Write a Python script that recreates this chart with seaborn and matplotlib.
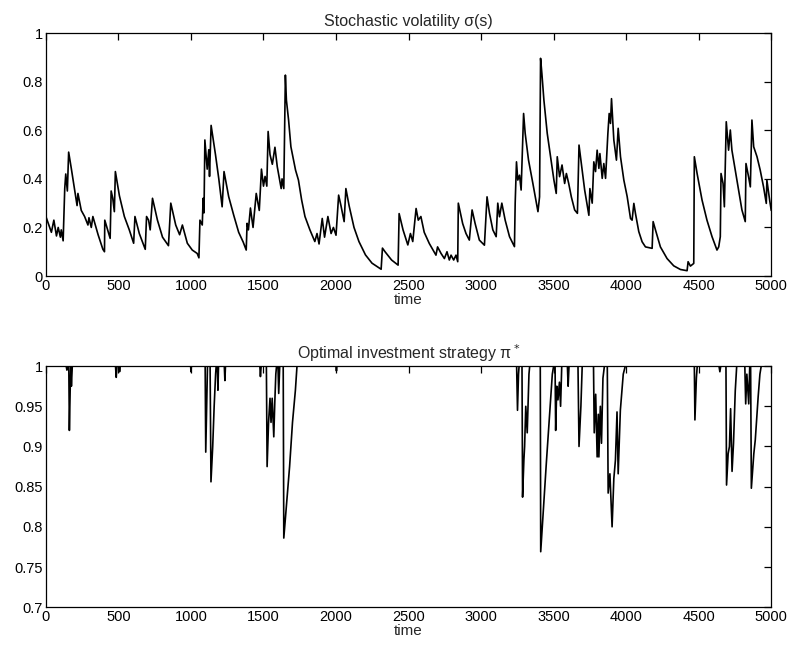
import pandas as pd
import numpy as np
import matplotlib
matplotlib.use("Agg")
import matplotlib.pyplot as plt
from matplotlib.ticker import FormatStrFormatter
import seaborn as sns

# volatility path sigma(s) (time, value)
vol_time = [0, 38, 55, 73, 85, 100, 106, 119, 130, 137, 148, 157, 176, 199, 215, 221, 244, 267, 290, 297,
            313, 324, 360, 393, 404, 406, 443, 450, 461, 472, 479, 507, 541, 575, 605, 614, 644, 685, 694, 708,
            719, 735, 769, 804, 845, 861, 895, 922, 941, 975, 1009, 1043, 1055, 1062, 1078, 1084, 1090, 1096,
            1112, 1123, 1128, 1139, 1169, 1192, 1215, 1228, 1260, 1295, 1329, 1360, 1381, 1387, 1396, 1410,
            1428, 1450, 1471, 1486, 1500, 1511, 1523, 1532, 1545, 1561, 1579, 1595, 1613, 1622, 1628, 1640,
            1646, 1651, 1658, 1673, 1689, 1707, 1721, 1741, 1763, 1786, 1820, 1854, 1869, 1883, 1905, 1921,
            1944, 1966, 1982, 2000, 2018, 2034, 2056, 2068, 2090, 2124, 2158, 2203, 2248, 2311, 2320, 2338,
            2383, 2428, 2435, 2462, 2495, 2513, 2529, 2552, 2567, 2585, 2608, 2643, 2689, 2700, 2724, 2747,
            2765, 2781, 2793, 2811, 2827, 2839, 2843, 2873, 2896, 2919, 2938, 2959, 2988, 3023, 3041, 3058,
            3081, 3104, 3115, 3127, 3143, 3166, 3196, 3230, 3235, 3244, 3253, 3265, 3276, 3293, 3304, 3318,
            3327, 3357, 3392, 3403, 3410, 3419, 3433, 3456, 3479, 3502, 3518, 3525, 3541, 3558, 3576, 3588,
            3604, 3622, 3645, 3664, 3675, 3691, 3714, 3737, 3743, 3750, 3766, 3777, 3789, 3800, 3812, 3819,
            3835, 3846, 3858, 3874, 3883, 3892, 3899, 3915, 3933, 3945, 3961, 3984, 4007, 4030, 4041, 4053,
            4064, 4087, 4110, 4133, 4179, 4186, 4202, 4236, 4282, 4328, 4374, 4420, 4427, 4443, 4466, 4470,
            4489, 4523, 4557, 4592, 4626, 4638, 4649, 4654, 4668, 4677, 4690, 4706, 4718, 4729, 4752, 4775,
            4798, 4821, 4826, 4844, 4856, 4867, 4879, 4902, 4924, 4947, 4966, 4970, 4989, 5000]
vol_value = [0.245, 0.18, 0.23, 0.165, 0.2, 0.16, 0.19, 0.145, 0.36, 0.42, 0.35, 0.51, 0.44, 0.35, 0.29, 0.34,
             0.27, 0.245, 0.21, 0.24, 0.2, 0.245, 0.17, 0.11, 0.1, 0.23, 0.155, 0.35, 0.32, 0.265, 0.43, 0.33,
             0.245, 0.19, 0.135, 0.245, 0.175, 0.11, 0.245, 0.23, 0.19, 0.32, 0.23, 0.16, 0.125, 0.3, 0.21,
             0.17, 0.21, 0.135, 0.107, 0.093, 0.075, 0.23, 0.21, 0.32, 0.26, 0.56, 0.44, 0.52, 0.41, 0.62, 0.5,
             0.4, 0.285, 0.43, 0.327, 0.25, 0.18, 0.14, 0.107, 0.217, 0.19, 0.28, 0.2, 0.34, 0.27, 0.44, 0.37,
             0.41, 0.37, 0.595, 0.5, 0.46, 0.53, 0.45, 0.39, 0.36, 0.4, 0.36, 0.61, 0.827, 0.724, 0.642, 0.532,
             0.477, 0.436, 0.395, 0.313, 0.245, 0.19, 0.142, 0.175, 0.132, 0.237, 0.16, 0.245, 0.175, 0.2,
             0.168, 0.333, 0.29, 0.224, 0.36, 0.29, 0.2, 0.142, 0.087, 0.053, 0.028, 0.115, 0.1, 0.066, 0.045,
             0.257, 0.19, 0.128, 0.175, 0.142, 0.278, 0.23, 0.245, 0.18, 0.134, 0.086, 0.12, 0.093, 0.072, 0.1,
             0.066, 0.086, 0.066, 0.086, 0.059, 0.3, 0.216, 0.175, 0.148, 0.272, 0.216, 0.148, 0.127, 0.326,
             0.258, 0.19, 0.162, 0.3, 0.244, 0.3, 0.23, 0.162, 0.121, 0.3, 0.47, 0.395, 0.415, 0.354, 0.669,
             0.587, 0.518, 0.477, 0.381, 0.265, 0.326, 0.896, 0.834, 0.724, 0.587, 0.491, 0.395, 0.34, 0.491,
             0.409, 0.457, 0.381, 0.422, 0.381, 0.326, 0.272, 0.258, 0.539, 0.463, 0.354, 0.272, 0.25, 0.36,
             0.3, 0.47, 0.43, 0.518, 0.443, 0.504, 0.402, 0.463, 0.402, 0.587, 0.669, 0.628, 0.73, 0.56, 0.477,
             0.608, 0.491, 0.395, 0.327, 0.237, 0.23, 0.299, 0.258, 0.183, 0.141, 0.12, 0.114, 0.224, 0.19,
             0.12, 0.072, 0.042, 0.027, 0.022, 0.059, 0.041, 0.052, 0.491, 0.422, 0.313, 0.23, 0.162, 0.107,
             0.12, 0.162, 0.422, 0.381, 0.285, 0.635, 0.518, 0.601, 0.518, 0.436, 0.354, 0.272, 0.224, 0.463,
             0.408, 0.367, 0.642, 0.532, 0.491, 0.436, 0.367, 0.299, 0.395, 0.313, 0.27]

# optimal strategy pi* (time, value)
pi_time = [0, 140, 145, 150, 158, 162, 168, 172, 176, 182, 480, 485, 490, 505, 508, 512, 998, 1000, 1003,
           1098, 1102, 1108, 1114, 1132, 1138, 1150, 1160, 1170, 1174, 1182, 1186, 1190, 1230, 1234, 1238,
           1475, 1479, 1484, 1520, 1525, 1535, 1545, 1552, 1560, 1571, 1578, 1585, 1590, 1600, 1605, 1612,
           1636, 1640, 1660, 1680, 1700, 1720, 1731, 2000, 2003, 2006, 3245, 3251, 3258, 3262, 3282, 3286,
           3295, 3300, 3308, 3318, 3330, 3335, 3408, 3411, 3450, 3491, 3500, 3510, 3514, 3522, 3530, 3540,
           3548, 3556, 3595, 3600, 3606, 3668, 3675, 3688, 3697, 3775, 3780, 3790, 3800, 3808, 3812, 3822,
           3830, 3840, 3850, 3870, 3876, 3888, 3903, 3915, 3926, 3937, 3945, 3960, 3980, 3994, 4470, 4474,
           4484, 4490, 4640, 4646, 4652, 4688, 4692, 4703, 4712, 4720, 4730, 4740, 4752, 4762, 4818, 4824,
           4832, 4845, 4852, 4858, 4863, 4880, 4890, 4910, 4922, 4931, 5000]
pi_value = [1, 1, 0.995, 1, 1, 0.92, 0.975, 1, 0.975, 1, 1, 0.986, 1, 1, 0.993, 1, 1, 0.993, 1,
            1, 0.893, 0.95, 1, 1, 0.856, 0.9, 0.95, 0.99, 1, 1, 0.97, 1, 1, 0.982, 1,
            1, 0.987, 1, 1, 0.875, 0.93, 0.96, 0.93, 0.96, 0.912, 0.955, 0.99, 1, 1, 0.966, 1,
            1, 0.786, 0.83, 0.875, 0.93, 0.97, 1, 1, 0.994, 1, 1, 0.945, 0.99, 1, 1, 0.837,
            0.883, 0.9, 0.95, 0.917, 0.99, 1, 1, 0.769, 0.88, 0.99, 1, 1, 0.92, 0.975, 0.958, 0.98,
            0.95, 1, 1, 0.975, 1, 1, 0.9, 0.95, 1, 1, 0.917, 0.965, 0.887, 0.94, 0.887, 0.95,
            0.904, 0.985, 1, 1, 0.842, 0.866, 0.8, 0.86, 0.883, 0.943, 0.866, 0.945, 0.99, 1, 1, 0.933,
            0.985, 1, 1, 0.993, 1, 1, 0.852, 0.891, 0.9, 0.947, 0.869, 0.904, 0.969, 1, 1, 0.953,
            0.99, 0.953, 1, 1, 0.848, 0.891, 0.908, 0.962, 0.99, 1, 1]

vol = pd.DataFrame({"time": vol_time, "sigma": vol_value})
pi = pd.DataFrame({"time": pi_time, "pi": pi_value})

sns.set_style("white")
plt.rcParams["font.family"] = ["Liberation Sans", "DejaVu Sans"]
plt.rcParams["font.size"] = 11

fig = plt.figure(figsize=(7.91, 6.48), dpi=100)
ax1 = fig.add_axes([0.058, 0.574, 0.917, 0.375])
ax2 = fig.add_axes([0.058, 0.063, 0.917, 0.372])

sns.lineplot(data=vol, x="time", y="sigma", ax=ax1, color="black", lw=1.2,
             estimator=None, sort=False)
sns.lineplot(data=pi, x="time", y="pi", ax=ax2, color="black", lw=1.2,
             estimator=None, sort=False)

ax1.set_ylim(0, 1)
ax1.set_yticks([0, 0.2, 0.4, 0.6, 0.8, 1])
ax1.set_title("Stochastic volatility σ(s)", fontsize=11.5, pad=5)

ax2.set_ylim(0.7, 1)
ax2.set_yticks([0.7, 0.75, 0.8, 0.85, 0.9, 0.95, 1])
ax2.set_title("Optimal investment strategy π$^*$", fontsize=11.5, pad=5)

for ax in (ax1, ax2):
    ax.set_xlim(0, 5000)
    ax.set_xticks(range(0, 5001, 500))
    ax.yaxis.set_major_formatter(FormatStrFormatter("%g"))
    ax.set_xlabel("time", labelpad=0, fontsize=11)
    ax.set_ylabel("")
    ax.tick_params(direction="in", top=True, right=True, length=5, width=0.9,
                   labelsize=10.5, colors="black", pad=2)
    for s in ax.spines.values():
        s.set_color("black")
        s.set_linewidth(0.9)

fig.savefig("out.png", dpi=100)
